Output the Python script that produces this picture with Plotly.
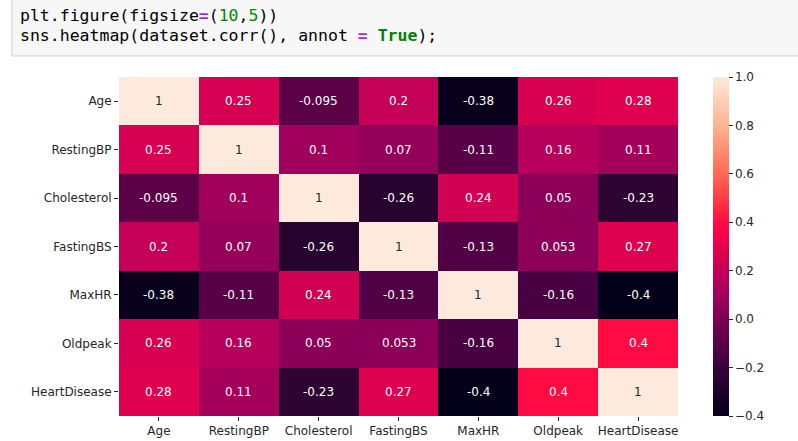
import plotly.graph_objects as go

labels = ["Age", "RestingBP", "Cholesterol", "FastingBS", "MaxHR", "Oldpeak", "HeartDisease"]

row_age = [1, 0.25, -0.095, 0.2, -0.38, 0.26, 0.28]
row_restingbp = [0.25, 1, 0.1, 0.07, -0.11, 0.16, 0.11]
row_cholesterol = [-0.095, 0.1, 1, -0.26, 0.24, 0.05, -0.23]
row_fastingbs = [0.2, 0.07, -0.26, 1, -0.13, 0.053, 0.27]
row_maxhr = [-0.38, -0.11, 0.24, -0.13, 1, -0.16, -0.4]
row_oldpeak = [0.26, 0.16, 0.05, 0.053, -0.16, 1, 0.4]
row_heartdisease = [0.28, 0.11, -0.23, 0.27, -0.4, 0.4, 1]

corr = [row_age, row_restingbp, row_cholesterol, row_fastingbs, row_maxhr, row_oldpeak, row_heartdisease]

cbar_ticks = [-0.4, -0.2, 0.0, 0.2, 0.4, 0.6, 0.8, 1.0]
cbar_ticktext = ["\u22120.4", "\u22120.2", "0.0", "0.2", "0.4", "0.6", "0.8", "1.0"]

VMIN, VMAX = -0.4, 1.0

# rocket-like palette as it appears in the screenshot (saturated)
rocket = [
    [0.0, "#03001a"],
    [0.121, "#2e0433"],
    [0.171, "#480042"],
    [0.218, "#5c0048"],
    [0.321, "#8c0059"],
    [0.357, "#a0005b"],
    [0.4, "#b6005b"],
    [0.471, "#d80050"],
    [0.53, "#f5004a"],
    [0.571, "#ff0a42"],
    [0.64, "#ff3a45"],
    [0.714, "#ff6a52"],
    [0.857, "#ffb48f"],
    [1.0, "#fdeadc"],
]

def hex_to_rgb(h):
    h = h.lstrip("#")
    return tuple(int(h[i:i+2], 16) / 255 for i in (0, 2, 4))

def color_at(v):
    t = (v - VMIN) / (VMAX - VMIN)
    t = min(max(t, 0), 1)
    for (p0, c0), (p1, c1) in zip(rocket[:-1], rocket[1:]):
        if p0 <= t <= p1:
            f = (t - p0) / (p1 - p0) if p1 > p0 else 0
            a, b = hex_to_rgb(c0), hex_to_rgb(c1)
            return tuple(a[i] + (b[i] - a[i]) * f for i in range(3))
    return hex_to_rgb(rocket[-1][1])

def lum(rgb):
    out = []
    for c in rgb:
        out.append(c / 12.92 if c <= 0.03928 else ((c + 0.055) / 1.055) ** 2.4)
    return 0.2126 * out[0] + 0.7152 * out[1] + 0.0722 * out[2]

fig = go.Figure()
fig.add_trace(go.Heatmap(
    z=corr, x=labels, y=labels,
    zmin=VMIN, zmax=VMAX, colorscale=rocket,
    xgap=0, ygap=0, hoverinfo="skip",
    colorbar=dict(
        x=713/798, xanchor="left", xpad=0, ypad=0, thickness=16, thicknessmode="pixels",
        y=1-(77+416)/2/441, yanchor="middle", len=339, lenmode="pixels",
        tickvals=cbar_ticks, ticktext=cbar_ticktext, ticks="outside", ticklen=4,
        tickcolor="#262626", tickwidth=1, outlinewidth=0,
        tickfont=dict(family="DejaVu Sans", size=12, color="#262626"),
    ),
))

annotations = []
for i, rname in enumerate(labels):
    for j, cname in enumerate(labels):
        v = corr[i][j]
        txt = "{:.2g}".format(v)
        col = "#262626" if lum(color_at(v)) > 0.408 else "#ffffff"
        annotations.append(dict(x=cname, y=rname, xref="x", yref="y", text=txt, showarrow=False,
                                font=dict(family="DejaVu Sans", size=12, color=col)))

# code cell text
line1 = ('plt.figure(figsize<b><span style="color:#aa22ff">=</span></b>(<span style="color:#008800">10</span>,'
         '<span style="color:#008800">5</span>))')
line2 = ('sns.heatmap(dataset.corr(), annot <b><span style="color:#aa22ff">=</span></b> '
         '<b><span style="color:#008000">True</span></b>);')
annotations.append(dict(x=18/798, y=1-16/441, xref="paper", yref="paper", xanchor="left", yanchor="middle",
                        text=line1, showarrow=False, font=dict(family="DejaVu Sans Mono", size=16.5, color="#000000")))
annotations.append(dict(x=18/798, y=1-36/441, xref="paper", yref="paper", xanchor="left", yanchor="middle",
                        text=line2, showarrow=False, font=dict(family="DejaVu Sans Mono", size=16.5, color="#000000")))

fig.update_layout(
    width=798, height=441, margin=dict(l=0, r=0, t=0, b=0),
    paper_bgcolor="#ffffff", plot_bgcolor="#ffffff",
    annotations=annotations,
    shapes=[dict(type="rect", xref="paper", yref="paper", x0=12/798, x1=1.02, y0=1-56/441, y1=1.02,
                 fillcolor="#f7f7f7", line=dict(color="#cfcfcf", width=1), layer="below")],
    xaxis=dict(domain=[119/798, 678/798], showgrid=False, zeroline=False, ticks="outside", ticklen=4,
               tickcolor="#262626", tickfont=dict(family="DejaVu Sans", size=12, color="#262626"),
               showline=False, tickangle=0),
    yaxis=dict(domain=[1-416/441, 1-77/441], autorange="reversed", showgrid=False, zeroline=False,
               ticks="outside", ticklen=4, tickcolor="#262626",
               tickfont=dict(family="DejaVu Sans", size=12, color="#262626"), showline=False),
    font=dict(family="DejaVu Sans", color="#262626"),
)

fig.write_html("out.html")
